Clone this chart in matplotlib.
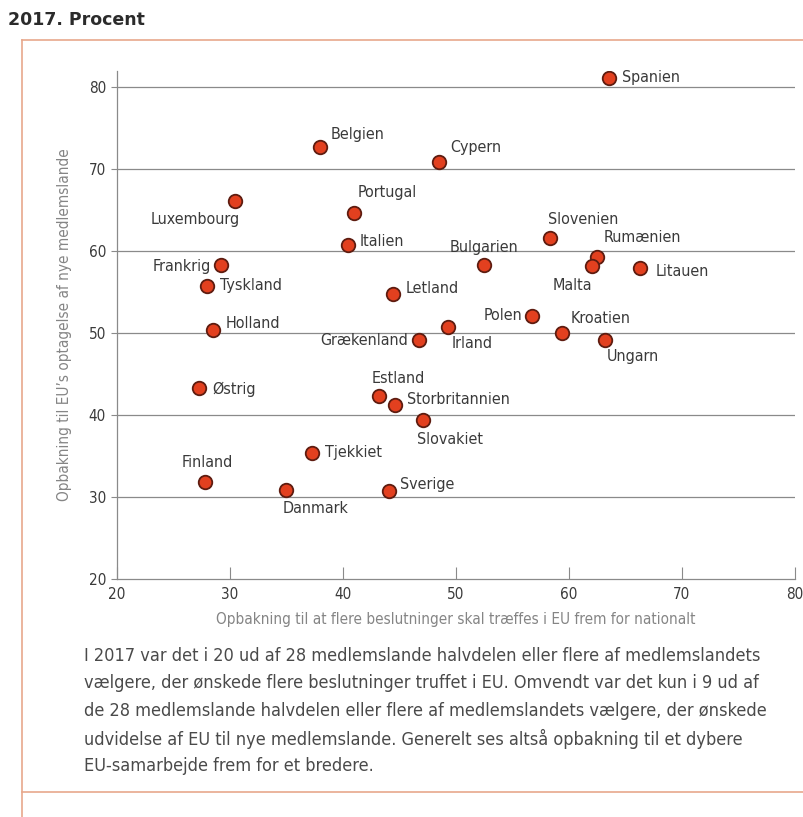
import matplotlib
matplotlib.use("Agg")
import matplotlib.pyplot as plt
from matplotlib import font_manager as fm
from matplotlib.lines import Line2D

# ---------------- data ----------------
countries = ["Spanien", "Belgien", "Cypern", "Portugal", "Luxembourg", "Slovenien",
             "Rumænien", "Malta", "Litauen", "Italien", "Bulgarien", "Frankrig",
             "Tyskland", "Letland", "Polen", "Kroatien", "Ungarn", "Irland",
             "Grækenland", "Holland", "Estland", "Storbritannien", "Slovakiet",
             "Østrig", "Tjekkiet", "Finland", "Danmark", "Sverige"]
x_deeper = [63.5, 38.0, 48.5, 41.0, 30.4, 58.3,
            62.5, 62.0, 66.3, 40.4, 52.5, 29.2,
            28.0, 44.4, 56.7, 59.4, 63.2, 49.3,
            46.7, 28.5, 43.2, 44.6, 47.1,
            27.3, 37.3, 27.8, 35.0, 44.1]
y_wider = [81.2, 72.7, 70.9, 64.7, 66.1, 61.6,
           59.3, 58.2, 58.0, 60.8, 58.3, 58.3,
           55.7, 54.8, 52.1, 50.0, 49.2, 50.8,
           49.2, 50.4, 42.3, 41.2, 39.4,
           43.3, 35.4, 31.8, 30.9, 30.7]
x_ticks = [20, 30, 40, 50, 60, 70, 80]
y_ticks = [20, 30, 40, 50, 60, 70, 80]

title = "2017. Procent"
xlabel = "Opbakning til at flere beslutninger skal træffes i EU frem for nationalt"
ylabel = "Opbakning til EU’s optagelse af nye medlemslande"
body = ["I 2017 var det i 20 ud af 28 medlemslande halvdelen eller flere af medlemslandets",
        "vælgere, der ønskede flere beslutninger truffet i EU. Omvendt var det kun i 9 ud af",
        "de 28 medlemslande halvdelen eller flere af medlemslandets vælgere, der ønskede",
        "udvidelse af EU til nye medlemslande. Generelt ses altså opbakning til et dybere",
        "EU-samarbejde frem for et bredere."]

# label placement: (dx px, dy px screen-down, ha)
label_pos = {
    "Spanien": (13, 0, "left"), "Belgien": (10, -13, "left"), "Cypern": (11, -14, "left"),
    "Portugal": (3, -20, "left"), "Luxembourg": (5, 18, "right"), "Slovenien": (-2, -19, "left"),
    "Rumænien": (6, -19, "left"), "Malta": (1, 19, "right"), "Litauen": (15, 4, "left"),
    "Italien": (12, -3, "left"), "Bulgarien": (0, -18, "center"), "Frankrig": (-10, 1, "right"),
    "Tyskland": (13, -1, "left"), "Letland": (13, -5, "left"), "Polen": (-9, 0, "right"),
    "Kroatien": (8, -15, "left"), "Ungarn": (2, 17, "left"), "Irland": (4, 17, "left"),
    "Grækenland": (-11, 1, "right"), "Holland": (13, -6, "left"), "Estland": (-8, -18, "left"),
    "Storbritannien": (12, -6, "left"), "Slovakiet": (-6, 19, "left"), "Østrig": (13, 1, "left"),
    "Tjekkiet": (13, 0, "left"), "Finland": (2, -20, "center"), "Danmark": (-4, 19, "left"),
    "Sverige": (11, -7, "left"),
}

# ---------------- fonts ----------------
has_cond = any(f.name == "DejaVu Sans" and str(f.stretch) in ("condensed", "semi-condensed")
               for f in fm.fontManager.ttflist)
plt.rcParams['font.family'] = ['DejaVu Sans']
if has_cond:
    plt.rcParams['font.stretch'] = 'condensed'
    s_lab, s_tick, s_ax, s_body = 11.5, 11.0, 11.0, 13.0
else:
    s_lab, s_tick, s_ax, s_body = 10.5, 10.5, 9.5, 11.5

TXT = "#3a3a3a"
GRAY = "#858585"
LINE = "#8a8a8a"
FRAME = "#e7a88c"

fig = plt.figure(figsize=(8.04, 8.17), dpi=100)
W, H = 804, 817

def fx(px):
    return px / W

def fy(py):
    return 1 - py / H

# frame around chart + text
fig.add_artist(Line2D([fx(22), fx(22)], [fy(40), fy(817)], color=FRAME, lw=1.2))
fig.add_artist(Line2D([fx(22), fx(804)], [fy(40), fy(40)], color=FRAME, lw=1.2))
fig.add_artist(Line2D([fx(22), fx(804)], [fy(792), fy(792)], color=FRAME, lw=1.2))

fig.text(fx(8), fy(20), title, fontsize=12.5, fontweight='bold', color="#2b2b2b",
         ha='left', va='center', fontstretch='normal')

ax = fig.add_axes([fx(117), fy(579), fx(795) - fx(117), fy(71) - fy(579)])
ax.set_xlim(20, 80)
ax.set_ylim(20, 82)
ax.set_xticks(x_ticks)
ax.set_yticks(y_ticks)
for v in y_ticks[1:]:
    ax.axhline(v, color=LINE, lw=0.9, zorder=1)
for side in ("top", "right"):
    ax.spines[side].set_visible(False)
for side in ("left", "bottom"):
    ax.spines[side].set_color(LINE)
    ax.spines[side].set_linewidth(0.9)
ax.tick_params(axis='x', direction='in', length=9, color=LINE, labelsize=s_tick,
               labelcolor=TXT, pad=6)
ax.tick_params(axis='y', direction='out', length=4, color=LINE, labelsize=s_tick,
               labelcolor=TXT, pad=4)
ax.set_facecolor("none")

ax.scatter(x_deeper, y_wider, s=95, color="#e2401f", edgecolor="#5e1c10",
           linewidth=1.3, zorder=3)

for name, xv, yv in zip(countries, x_deeper, y_wider):
    dx, dy, ha = label_pos[name]
    ax.annotate(name, (xv, yv), xytext=(dx, -dy), textcoords='offset pixels',
                ha=ha, va='center', fontsize=s_lab, color=TXT, zorder=4)

ax.set_xlabel(xlabel, fontsize=s_ax, color=GRAY, labelpad=7)
ax.set_ylabel(ylabel, fontsize=s_ax, color=GRAY, labelpad=12)

for i, line in enumerate(body):
    fig.text(fx(84), fy(656 + 27.5 * i), line, fontsize=s_body, color="#4a4a4a",
             ha='left', va='center')

fig.savefig("out.png", dpi=100, facecolor="white")
